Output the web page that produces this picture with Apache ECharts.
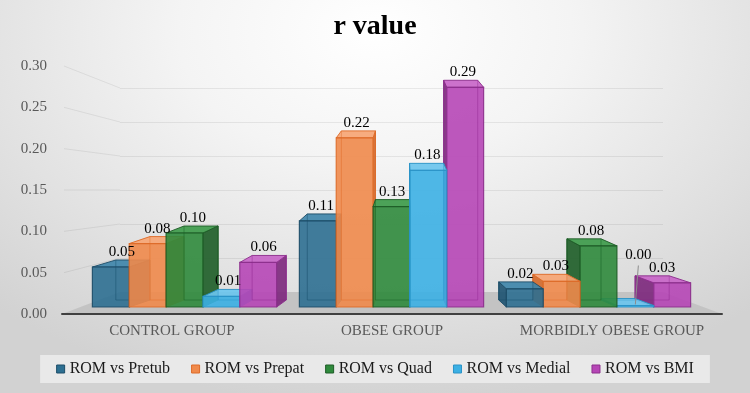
<!DOCTYPE html>
<html>
<head>
<meta charset="utf-8">
<script src="https://cdn.jsdelivr.net/npm/echarts@6/dist/echarts.min.js"></script>
<style>
  html, body { margin: 0; padding: 0; }
  body {
    width: 750px; height: 393px; overflow: hidden;
    background: radial-gradient(ellipse 75% 95% at 50% 8%, #ffffff 0%, #f4f4f4 35%, #e2e2e2 70%, #d2d2d2 100%);
  }
  #chart { width: 750px; height: 393px; }
</style>
</head>
<body>
<div id="chart"></div>
<script>
// data
const categories = ['CONTROL GROUP', 'OBESE GROUP', 'MORBIDLY OBESE GROUP']
const seriesNames = ['ROM vs Pretub', 'ROM vs Prepat', 'ROM vs Quad', 'ROM vs Medial', 'ROM vs BMI']
const pretub = [0.053, 0.114, 0.024]
const prepat = [0.084, 0.224, 0.034]
const quad = [0.098, 0.133, 0.081]
const medial = [0.014, 0.181, 0.002]
const bmi = [0.059, 0.291, 0.032]
const yTicks = [0, 0.05, 0.10, 0.15, 0.20, 0.25, 0.30]

const allValues = [pretub, prepat, quad, medial, bmi]

// colours for each bar: front, top, side, edge
const palette = [
  { front: '#2d6f91', top: '#3f86aa', side: '#1f5573', edge: '#1d4d68' },
  { front: '#f08a4b', top: '#f6a574', side: '#d26a2c', edge: '#dd6a28' },
  { front: '#2f8a3c', top: '#3e9b4b', side: '#21602a', edge: '#1e5c27' },
  { front: '#3cb0e4', top: '#6cc5ee', side: '#2a8fc2', edge: '#2a92c6' },
  { front: '#b646b6', top: '#c866c8', side: '#7e2a7e', edge: '#8c2f8c' }
]

const FONT = 'Liberation Serif'
const gridA = { left: 62, right: 28, top: 66, bottom: 79 }    // labels + axis line
const gridB = { left: 81, right: 48, top: 80.5, bottom: 86 }  // bar front faces
const gridC = { left: 120, right: 87, top: 88, bottom: 101 }  // back wall
const BAR_FRAC = 0.178
const PERSP = 0.075
const DEPTH = 7

function renderBar(params, api) {
  const idx = params.seriesIndex
  const cat = api.value(0)
  const v = api.value(1)
  const base = api.coord([cat, 0])
  const top = api.coord([cat, v])
  const band = api.size([1, 0])[0]
  const w = band * BAR_FRAC
  const vanish = api.coord([1, 0])[0] + band * 0.065
  const shift = x => -PERSP * (x - vanish)
  const cx = base[0] + (idx - 2) * w
  const x0 = cx - w / 2, x1 = cx + w / 2
  const yb = base[1], yt = top[1]
  const bx0 = x0 + shift(x0), bx1 = x1 + shift(x1)
  const byb = yb - DEPTH, byt = yt - DEPTH
  const c = palette[idx]
  const right = shift(cx) >= 0
  const zb = (right ? idx : 10 - idx) * 6

  const side = right
    ? [[x1, yb], [x1, yt], [bx1, byt], [bx1, byb]]
    : [[x0, yb], [x0, yt], [bx0, byt], [bx0, byb]]

  const children = [
    {
      type: 'polyline', z2: zb,
      shape: { points: [[bx0, byt], [bx0, byb], [bx1, byb], [bx1, byt]] },
      style: { stroke: c.edge, lineWidth: 1, fill: null, opacity: 0.6 }
    },
    {
      type: 'polygon', z2: zb + 1,
      shape: { points: side },
      style: { fill: c.side, stroke: c.edge, lineWidth: 1, opacity: 0.92 }
    },
    {
      type: 'polygon', z2: zb + 2,
      shape: { points: [[x0, yt], [x1, yt], [bx1, byt], [bx0, byt]] },
      style: { fill: c.top, stroke: c.edge, lineWidth: 1, opacity: 0.92 }
    },
    {
      type: 'rect', z2: zb + 3,
      shape: { x: x0, y: yt, width: w, height: yb - yt },
      style: { fill: c.front, stroke: c.edge, lineWidth: 1.2, opacity: 0.9 }
    },
    {
      type: 'polyline', z2: zb + 4,
      shape: { points: [[bx0, byt], [bx0, byb], [bx1, byb], [bx1, byt]] },
      style: { stroke: c.edge, lineWidth: 1, fill: null, opacity: 0.35 }
    }
  ]

  let ly = yt - 15
  let lx = cx + shift(cx) / 2
  if (v < 0.005) {
    ly = yt - 50
    lx = cx + 3
    children.push({
      type: 'line', z2: 99,
      shape: { x1: cx + 3, y1: yt - 40, x2: cx, y2: yt - 1 },
      style: { stroke: '#8c8c8c', lineWidth: 1 }
    })
  }
  children.push({
    type: 'text', z2: 100,
    x: lx, y: ly,
    style: {
      text: v.toFixed(2), fill: '#000', font: '15px "' + FONT + '"',
      align: 'center', verticalAlign: 'middle'
    }
  })
  return { type: 'group', children: children }
}

const myChart = echarts.init(document.getElementById('chart'))

const barSeries = seriesNames.map((name, i) => ({
  name: name,
  type: 'custom',
  xAxisIndex: 1,
  yAxisIndex: 1,
  z: 3,
  itemStyle: { color: palette[i].front },
  renderItem: renderBar,
  encode: { x: 0, y: 1 },
  data: allValues[i].map((v, k) => [k, v])
}))

const option = {
  animation: false,
  title: {
    text: 'r value',
    left: 'center',
    top: 8,
    textStyle: { fontFamily: FONT, fontWeight: 'bold', fontSize: 28, color: '#000' }
  },
  legend: {
    data: seriesNames.map((n, i) => ({
      name: n,
      itemStyle: { color: palette[i].front, borderColor: palette[i].edge, borderWidth: 1 }
    })),
    left: 'center',
    top: 355,
    padding: [6, 16],
    backgroundColor: '#e9e9e9',
    icon: 'rect',
    itemWidth: 8,
    itemHeight: 8,
    itemGap: 21,
    textStyle: { fontFamily: FONT, fontSize: 16, color: '#1a1a1a' }
  },
  grid: [gridA, gridB, gridC],
  xAxis: [
    {
      type: 'category', gridIndex: 0, data: categories, z: 5,
      axisLine: { lineStyle: { color: '#404040', width: 2 } },
      axisTick: { show: false },
      axisLabel: { fontFamily: FONT, fontSize: 15, color: '#595959', margin: 10, interval: 0 }
    },
    { type: 'category', gridIndex: 1, data: categories, show: false },
    { type: 'value', gridIndex: 2, min: 0, max: 1, show: false }
  ],
  yAxis: [
    {
      type: 'value', gridIndex: 0, min: 0, max: 0.30, interval: 0.05,
      axisLine: { show: false }, axisTick: { show: false }, splitLine: { show: false },
      axisLabel: {
        fontFamily: FONT, fontSize: 15, color: '#595959', margin: 15,
        formatter: v => v.toFixed(2)
      }
    },
    { type: 'value', gridIndex: 1, min: 0, max: 0.30, show: false },
    {
      type: 'value', gridIndex: 2, min: 0, max: 0.30, interval: 0.05,
      axisLine: { show: false }, axisTick: { show: false }, axisLabel: { show: false },
      splitLine: { lineStyle: { color: 'rgba(0,0,0,0.07)', width: 1 } }
    }
  ],
  series: barSeries
}

myChart.setOption(option)

// side wall lines and floor, placed from the two y axes
const wallLines = yTicks.filter(t => t > 0).map(t => ({
  type: 'polyline', z: 1,
  shape: {
    points: [
      [gridA.left + 2, myChart.convertToPixel({ yAxisIndex: 0 }, t)],
      [gridC.left, myChart.convertToPixel({ yAxisIndex: 2 }, t)]
    ]
  },
  style: { stroke: 'rgba(0,0,0,0.07)', lineWidth: 1, fill: null }
}))
const yFront = myChart.convertToPixel({ yAxisIndex: 0 }, 0)
const yBack = myChart.convertToPixel({ yAxisIndex: 2 }, 0)
const floor = {
  type: 'polygon', z: 1,
  shape: {
    points: [
      [gridA.left, yFront], [750 - gridA.right, yFront],
      [750 - gridC.right, yBack], [gridC.left, yBack]
    ]
  },
  style: { fill: '#c3c3c3' }
}
myChart.setOption({ graphic: { elements: wallLines.concat([floor]) } })
</script>
</body>
</html>
